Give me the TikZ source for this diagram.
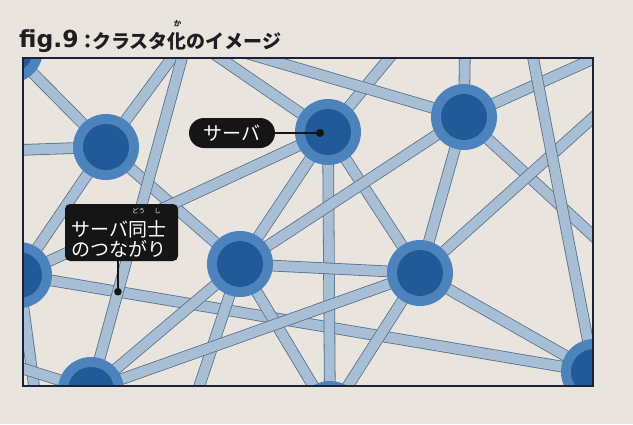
\documentclass[tikz,border=0pt]{standalone}
\usepackage{fontspec}
\usepackage{graphicx}
\newfontfamily\jp{Noto Sans CJK JP}
\newfontfamily\dvs{DejaVu Sans}
\definecolor{bgcol}{HTML}{E9E4DD}
\definecolor{ringblue}{HTML}{4C83BD}
\definecolor{coreblue}{HTML}{205A98}
\definecolor{edgefill}{HTML}{A8BED4}
\definecolor{edgeline}{HTML}{56708C}
\definecolor{framecol}{HTML}{1B2238}
\definecolor{labblack}{HTML}{151515}
\definecolor{titlecol}{HTML}{1E1E22}
\pgfdeclarelayer{back}
\pgfdeclarelayer{edges}
\pgfsetlayers{back,edges,main}
\tikzset{
  srv/.style={circle, fill=ringblue, minimum size=66pt, inner sep=0pt,
    path picture={\fill[coreblue] (path picture bounding box.center) circle (23pt);}},
  link/.style={draw=edgeline, line width=0.8pt, double=edgefill, double distance=10pt},
  lab/.style={fill=labblack, text=white, inner sep=0pt},
  labfont/.style={font=\jp\fontsize{19}{20}\selectfont},
  rubyfont/.style={font=\jp\fontsize{6.5}{7}\selectfont, text=white, inner sep=0pt},
  pointer/.style={draw=labblack, line width=1.5pt},
}
\begin{document}
\begin{tikzpicture}[x=1pt, y=-1pt]
\useasboundingbox (0,0) rectangle (633,424);
\begin{pgfonlayer}{back}
  \fill[bgcol] (0,0) rectangle (633,424);
\end{pgfonlayer}
% servers
\begin{scope}
  \clip (23,58) rectangle (593,386);
  \node[srv] (A) at (10,50) {};
  \node[srv] (B) at (106,147) {};
  \node[srv] (C) at (328,132) {};
  \node[srv] (D) at (464,117) {};
  \node[srv] (E) at (240,264) {};
  \node[srv] (F) at (420,273) {};
  \node[srv] (G) at (19,275) {};
  \node[srv] (H) at (91,390) {};
  \node[srv] (I) at (330,414) {};
  \node[srv] (J) at (594,372) {};
\end{scope}
% off-frame ends
\coordinate (T1) at (188,36);
\coordinate (T3) at (466,-35);
\coordinate (T4) at (724,0);
\coordinate (T5) at (524,11);
\coordinate (T6) at (664,301);
\coordinate (T8) at (188,420);
\coordinate (T9) at (-30,352);
\coordinate (T10) at (40,430);
\coordinate (T11) at (-40,152);
% connections
\begin{pgfonlayer}{edges}
  \clip (23,58) rectangle (593,386);
  \draw[link] (G.center) -- (J.center);
  \draw[link] (A.center) -- (B.center);
  \draw[link] (B.center) -- (T1);
  \draw[link] (B.center) -- (T11);
  \draw[link] (B.center) -- (G.center);
  \draw[link] (B.center) -- (E.center);
  \draw[link] (C.center) -- (T1);
  \draw[link] (C.center) -- (T3);
  \draw[link] (C.center) -- (E.center);
  \draw[link] (C.center) -- (F.center);
  \draw[link] (C.center) -- (I.center);
  \draw[link] (C.center) -- (G.center);
  \draw[link] (D.center) -- (T1);
  \draw[link] (D.center) -- (T3);
  \draw[link] (D.center) -- (T4);
  \draw[link] (D.center) -- (T6);
  \draw[link] (D.center) -- (E.center);
  \draw[link] (D.center) -- (F.center);
  \draw[link] (E.center) -- (F.center);
  \draw[link] (E.center) -- (H.center);
  \draw[link] (E.center) -- (I.center);
  \draw[link] (E.center) -- (T8);
  \draw[link] (F.center) -- (H.center);
  \draw[link] (F.center) -- (I.center);
  \draw[link] (F.center) -- (J.center);
  \draw[link] (F.center) -- (T4);
  \draw[link] (G.center) -- (T10);
  \draw[link] (H.center) -- (T1);
  \draw[link] (H.center) -- (T9);
  \draw[link] (J.center) -- (T5);
\end{pgfonlayer}
% frame
\draw[framecol, line width=2pt] (23,58) rectangle (593,386);
% label: server
\node[lab, labfont, rounded corners=15pt, minimum width=86pt, minimum height=30pt] (L1) at (232,133) {サーバ};
\coordinate (d1) at (320,133);
\draw[pointer] (L1.east) -- (d1);
\fill[labblack] (d1) circle (4pt);
% label: connection
\node[lab, rounded corners=5pt, minimum width=113pt, minimum height=57pt] (L2) at (121.5,232.5) {};
\node[labfont, text=white, anchor=base west, inner sep=0pt] (L2a) at (71.5,236) {サーバ同士};
\node[labfont, text=white, anchor=base west, inner sep=0pt] (L2b) at (71.5,256) {のつながり};
\node[rubyfont] (r1) at (138.5,211.5) {どう};
\node[rubyfont] (r2) at (157.5,211.5) {し};
\coordinate (d2) at (intersection of G.center--J.center and H.center--T1);
\draw[pointer] (d2) -- (d2 |- L2.south);
\fill[labblack] (d2) circle (3.8pt);
% title
\node[anchor=base west, inner sep=0pt, text=titlecol, font=\dvs\bfseries\fontsize{23.5}{24}\selectfont] (t1) at (19,47) {fig.9};
\node[anchor=base, inner sep=0pt, text=titlecol, font=\jp\bfseries\fontsize{19}{20}\selectfont] (t2) at (87.5,48) {：};
\node[anchor=base west, inner sep=0pt, text=titlecol, font=\jp\bfseries\fontsize{19}{20}\selectfont] (t3) at (92,48) {クラスタ化のイメージ};
\node[inner sep=0pt, text=titlecol, font=\jp\bfseries\fontsize{7.5}{8}\selectfont] (t4) at (177.5,24) {か};
\end{tikzpicture}
\end{document}
